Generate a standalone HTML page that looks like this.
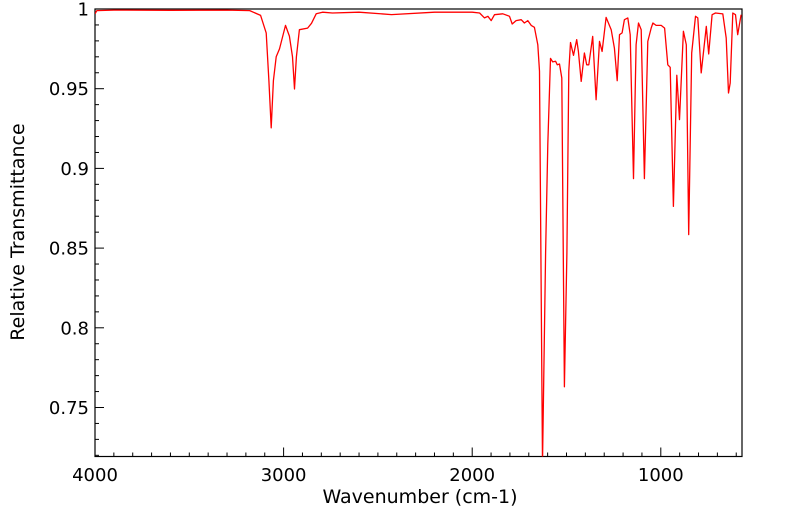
<!DOCTYPE html>
<html><head><meta charset="utf-8"><style>
body{margin:0;background:#fff;}
svg{display:block;font-family:"DejaVu Sans","Liberation Sans",sans-serif;}
</style></head><body>
<svg id="chart" width="799" height="516" viewBox="0 0 799 516">
<g id="axes"></g>
<text x="420" y="503" font-size="19" text-anchor="middle">Wavenumber (cm-1)</text>
<text x="0" y="0" font-size="19" text-anchor="middle" transform="translate(24,232) rotate(-90)">Relative Transmittance</text>
</svg>
<script>
const wavenumbers=[4000,3990,3900,3600,3300,3180,3122,3092,3078,3066,3054,3039,3022,2990,2969,2953,2942,2932,2916,2873,2852,2827,2794,2741,2600,2428,2200,2000,1961,1935,1917,1899,1882,1838,1802,1788,1767,1740,1723,1705,1687,1670,1652,1643,1627,1611,1599,1585,1573,1558,1549,1537,1525,1511,1498,1488,1479,1463,1446,1437,1422,1405,1393,1382,1361,1343,1325,1311,1290,1263,1246,1231,1219,1205,1193,1175,1162,1145,1131,1118,1104,1087,1069,1051,1042,1025,998,980,963,950,933,915,901,880,865,852,836,816,804,786,759,746,728,710,671,653,641,632,618,604,592,574];
const transmittance=[0.997,0.999,0.9993,0.9992,0.9993,0.999,0.996,0.985,0.955,0.9255,0.955,0.970,0.975,0.9897,0.983,0.970,0.9498,0.970,0.987,0.988,0.991,0.997,0.998,0.9975,0.998,0.9965,0.998,0.998,0.9975,0.9944,0.9954,0.9927,0.9964,0.997,0.9954,0.9906,0.9927,0.9933,0.9912,0.9927,0.9897,0.9885,0.9776,0.961,0.715,0.847,0.915,0.969,0.9668,0.9672,0.965,0.9655,0.9567,0.763,0.847,0.961,0.979,0.9709,0.9808,0.9734,0.9546,0.9724,0.965,0.965,0.9828,0.9431,0.9797,0.9734,0.9947,0.987,0.9755,0.955,0.9839,0.985,0.9933,0.9944,0.9839,0.8936,0.9776,0.9912,0.987,0.8936,0.9797,0.9881,0.9912,0.9897,0.9897,0.988,0.965,0.9634,0.8762,0.9584,0.9306,0.986,0.9776,0.8585,0.9724,0.9954,0.9944,0.9599,0.9891,0.9718,0.9964,0.9975,0.9969,0.9818,0.9473,0.9536,0.9975,0.9964,0.9839,0.9964];
const yTicks=[0.75,0.8,0.85,0.9,0.95,1];
const yTickLabels=["0.75","0.8","0.85","0.9","0.95","1"];
const xTicks=[4000,3000,2000,1000];
const xTickLabels=["4000","3000","2000","1000"];

const L=95,R=742,T=9,B=456.5;
const xS=w=>L+(4000-w)*0.1886;
const yS=v=>T+(1-v)*1594;
const NS='http://www.w3.org/2000/svg';
const svg=document.getElementById('chart');
const g=document.getElementById('axes');
function mk(tag,attrs,parent){const e=document.createElementNS(NS,tag);for(const k in attrs)e.setAttribute(k,attrs[k]);(parent||g).appendChild(e);return e;}

const clip=mk('clipPath',{id:'pc'});
mk('rect',{x:L,y:T,width:R-L,height:B-T},clip);

const frame=mk('rect',{x:L,y:T,width:R-L,height:B-T,fill:'none',stroke:'#000','stroke-width':1.2});



for(let i=72;i<=100;i++){const v=i/100;const y=yS(v);const major=(i%5===0);
 const t=mk('line',{x1:L,x2:L+(major?9:4),y1:y,y2:y,stroke:'#000','stroke-width':1});
 
 }
yTicks.forEach((v,i)=>{const t=mk('text',{x:89,y:yS(v)+6.5,'font-size':18,'text-anchor':'end'});t.textContent=yTickLabels[i];
 
 });
for(let w=4000;w>=600;w-=100){const x=xS(w);const major=(w%1000===0);
 const t=mk('line',{x1:x,x2:x,y1:B,y2:B-(major?9:4),stroke:'#000','stroke-width':1});
 
 }
xTicks.forEach((w,i)=>{const t=mk('text',{x:xS(w),y:481,'font-size':18,'text-anchor':'middle'});t.textContent=xTickLabels[i];
 
 });

const pts=wavenumbers.map((w,i)=>xS(w).toFixed(1)+','+yS(transmittance[i]).toFixed(1)).join(' ');
const line=mk('polyline',{points:pts,fill:'none',stroke:'#ff0000','stroke-width':1.3,'stroke-linejoin':'round','clip-path':'url(#pc)'});


</script>
</body></html>
